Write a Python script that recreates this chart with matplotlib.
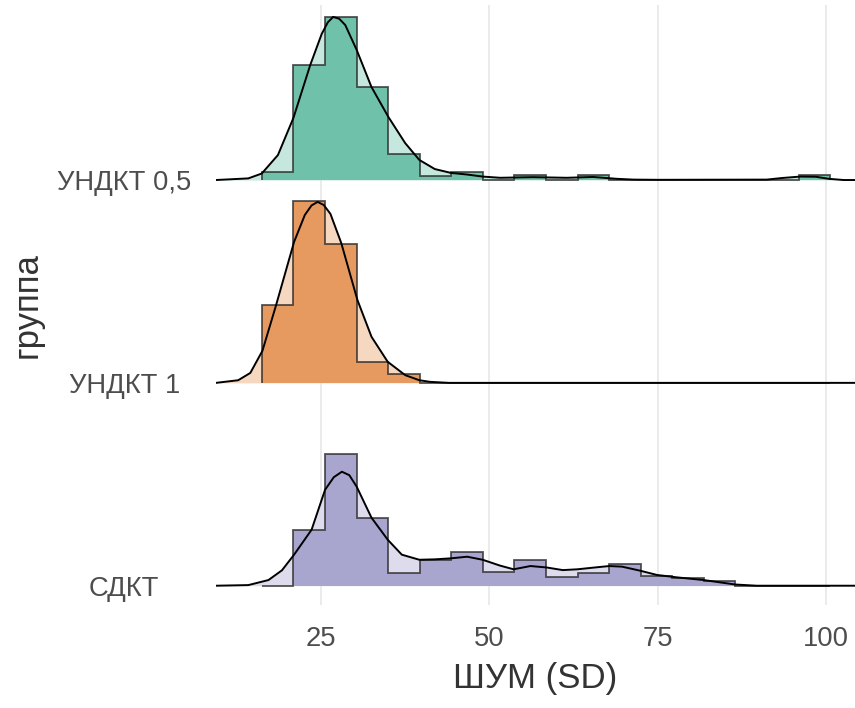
import numpy as np
import matplotlib
matplotlib.use("Agg")
import matplotlib.pyplot as plt
from matplotlib.colors import to_rgb

plt.rcParams['font.family'] = ['Liberation Sans', 'DejaVu Sans']

# группы снизу вверх
groups = ['СДКТ', 'УНДКТ 1', 'УНДКТ 0,5']
colors = ['#7570B3', '#D95F02', '#1B9E77']

# общие границы бинов гистограммы
bin_start = 16.2
bin_width = 4.69
n_bins = 18

# высоты столбцов (в долях шага между группами)
hist_sdkt = [0, 0.275, 0.649, 0.335, 0.064, 0.127, 0.168, 0.067, 0.127, 0.044,
             0.064, 0.105, 0.049, 0.039, 0.023, 0, 0, 0]
hist_undkt1 = [0.383, 0.896, 0.687, 0.104, 0.043, 0, 0, 0, 0, 0,
               0, 0, 0, 0, 0, 0, 0, 0]
hist_undkt05 = [0.038, 0.567, 0.802, 0.457, 0.127, 0.021, 0.038, 0, 0.025, 0,
                0.025, 0, 0, 0, 0, 0, 0, 0.025]

# плотности
dens_x_sdkt = [9.4, 14.2, 17.2, 19.2, 21.0, 23.6, 25.6, 26.9, 28.1, 29.2, 30.3, 32.5,
               34.9, 37.0, 39.6, 41.9, 44.3, 46.7, 49.0, 51.6, 53.6, 56.1, 58.5,
               60.9, 63.1, 65.4, 67.8, 69.7, 72.4, 74.9, 77.9, 81.8, 86.5, 89.7, 104.3]
dens_y_sdkt = [0, 0.003, 0.028, 0.076, 0.153, 0.276, 0.473, 0.535, 0.562, 0.545, 0.488,
               0.335, 0.227, 0.153, 0.128, 0.13, 0.135, 0.143, 0.128, 0.099, 0.081,
               0.097, 0.09, 0.077, 0.081, 0.089, 0.097, 0.094, 0.074, 0.053, 0.041,
               0.028, 0.006, 0, 0]

dens_x_undkt1 = [9.4, 12.7, 14.5, 16.3, 18.3, 21.0, 22.6, 23.6, 24.5, 25.4, 26.4, 28.0,
                 30.4, 32.5, 34.9, 37.5, 39.6, 41.2, 44.0, 104.3]
dens_y_undkt1 = [0, 0.013, 0.049, 0.158, 0.38, 0.695, 0.828, 0.875, 0.892, 0.877,
                 0.833, 0.69, 0.409, 0.227, 0.104, 0.038, 0.013, 0.005, 0, 0]

dens_x_undkt05 = [9.4, 14.2, 16.2, 18.6, 20.9, 23.4, 25.1, 26.0, 26.8, 27.7, 28.6, 30.3,
                  32.5, 35.0, 37.5, 39.6, 41.9, 44.3, 46.7, 49.0, 51.6, 56.5, 61.5,
                  65.4, 68.9, 71.4, 75.0, 91.2, 93.5, 96.2, 98.5, 100.4, 102.6, 104.3]
dens_y_undkt05 = [0, 0.008, 0.032, 0.123, 0.306, 0.567, 0.72, 0.777, 0.804, 0.795,
                  0.764, 0.641, 0.458, 0.311, 0.182, 0.099, 0.054, 0.035, 0.027, 0.017,
                  0.011, 0.014, 0.011, 0.015, 0.006, 0.002, 0.001, 0.002, 0.01, 0.017,
                  0.016, 0.006, 0, 0]

hists = [hist_sdkt, hist_undkt1, hist_undkt05]
dens = [(dens_x_sdkt, dens_y_sdkt), (dens_x_undkt1, dens_y_undkt1),
        (dens_x_undkt05, dens_y_undkt05)]

edges = bin_start + bin_width * np.arange(n_bins + 1)


def on_white(c, a):
    # цвет с прозрачностью, смешанный с белым фоном
    return tuple(a * np.array(to_rgb(c)) + (1 - a))


fig = plt.figure(figsize=(8.55, 7.08), dpi=100)
ax = fig.add_axes([0.2526, 0.1455, 0.7474, 0.8475])

# сверху вниз, чтобы нижние гребни ложились поверх верхних
for i in [2, 1, 0]:
    z = 2 + 4 * (2 - i)
    dx, dy = dens[i]
    dx = np.array(dx)
    dy = np.array(dy) + i
    ax.fill_between(dx, i, dy, color=on_white(colors[i], 0.25), lw=0, zorder=z)
    ax.stairs(np.array(hists[i]) + i, edges, baseline=i, fill=True,
              color=on_white(colors[i], 0.63), lw=0, zorder=z + 1)
    ax.stairs(np.array(hists[i]) + i, edges, baseline=i, fill=False,
              color='#2b2b2b', alpha=0.8, lw=1.3, zorder=z + 2)
    ax.plot(dx, dy, color='black', lw=1.4, zorder=z + 3,
            solid_joinstyle='round')

ax.set_xlim(9.4, 104.3)
ax.set_ylim(-0.095, 2.863)

ax.set_xticks([25, 50, 75, 100])
ax.set_yticks([0, 1, 2])
ax.set_yticklabels(groups)
for lab in ax.get_yticklabels():
    lab.set_horizontalalignment('center')
ax.tick_params(axis='y', length=0, pad=66, labelsize=19.7, labelcolor='#4D4D4D')
ax.tick_params(axis='x', length=0, pad=15, labelsize=19.7, labelcolor='#4D4D4D')

ax.grid(axis='x', color='#EBEBEB', lw=1.4, zorder=0)
ax.set_axisbelow(True)
for s in ax.spines.values():
    s.set_visible(False)

ax.set_xlabel('ШУМ (SD)', fontsize=25, color='#333333', labelpad=7.5)
ax.set_ylabel('группа', fontsize=25, color='#333333', labelpad=10)

fig.savefig('out.png', dpi=100)
